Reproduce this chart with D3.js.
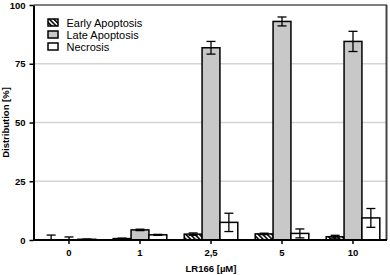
<!DOCTYPE html>
<html>
<head>
<meta charset="utf-8">
<script src="https://cdn.jsdelivr.net/npm/d3@7"></script>
<style>
  body { margin: 0; background: #fff; }
  text { font-family: "Liberation Sans", Arial, sans-serif; }
</style>
</head>
<body>
<div id="chart"></div>
<script>
// Datos
const categories = ['0', '1', '2,5', '5', '10'];
const seriesNames = ['Early Apoptosis', 'Late Apoptosis', 'Necrosis'];
const earlyValues = [0.1, 0.6, 2.5, 2.6, 1.4];
const earlyErrors = [2.0, 0.2, 0.5, 0.3, 0.6];
const lateValues = [0.1, 4.3, 81.8, 93.0, 84.5];
const lateErrors = [1.2, 0.3, 2.7, 1.9, 4.3];
const necrosisValues = [0.3, 2.2, 7.5, 2.8, 9.4];
const necrosisErrors = [0.1, 0.2, 3.9, 1.9, 4.0];
const yTicks = [0, 25, 50, 75, 100];

const width = 390, height = 275;
const mLeft = 33.5, mRight = 386, mTop = 5, mBottom = 240;

const svg = d3.select('#chart').append('svg')
  .attr('width', width).attr('height', height);

// Patrón rayado
const defs = svg.append('defs');
const pat = defs.append('pattern')
  .attr('id', 'hatch').attr('patternUnits', 'userSpaceOnUse')
  .attr('width', 3.2).attr('height', 4)
  .attr('patternTransform', 'rotate(-45)');
pat.append('rect').attr('width', 3.2).attr('height', 4).attr('fill', '#fff');
pat.append('rect').attr('width', 1.7).attr('height', 4).attr('fill', '#111');

const fills = { 'Early Apoptosis': 'url(#hatch)', 'Late Apoptosis': '#c8c8c8', 'Necrosis': '#fff' };

// Escalas
const x0 = d3.scaleBand().domain(categories).range([mLeft, mLeft + 71 * 5]).padding(0);
const x1 = d3.scaleBand().domain(seriesNames).range([-26.8, 26.8]).padding(0);
const y = d3.scaleLinear().domain([0, 100]).range([mBottom, mTop]);

// Rejilla
svg.append('g').selectAll('line').data(yTicks.filter(t => t > 0 && t < 100)).join('line')
  .attr('x1', mLeft).attr('x2', mRight)
  .attr('y1', d => y(d)).attr('y2', d => y(d))
  .attr('stroke', '#d4d4d4').attr('stroke-width', 1.5);

// Marco superior y derecho
svg.append('line').attr('x1', mLeft).attr('x2', mRight + 1).attr('y1', mTop).attr('y2', mTop)
  .attr('stroke', '#555').attr('stroke-width', 1.5);
svg.append('line').attr('x1', mRight + 0.5).attr('x2', mRight + 0.5).attr('y1', mTop).attr('y2', mBottom)
  .attr('stroke', '#444').attr('stroke-width', 2);

const series = [
  { name: 'Early Apoptosis', values: earlyValues, errors: earlyErrors },
  { name: 'Late Apoptosis', values: lateValues, errors: lateErrors },
  { name: 'Necrosis', values: necrosisValues, errors: necrosisErrors },
];

const rows = [];
series.forEach(s => categories.forEach((c, i) => rows.push({ s: s.name, c, v: s.values[i], e: s.errors[i] })));

const cx = d => x0(d.c) + x0.bandwidth() / 2 + x1(d.s);

// Barras
svg.append('g').selectAll('rect').data(rows).join('rect')
  .attr('x', d => cx(d))
  .attr('y', d => y(d.v))
  .attr('width', x1.bandwidth())
  .attr('height', d => y(0) - y(d.v))
  .attr('fill', d => fills[d.s])
  .attr('stroke', '#000').attr('stroke-width', 1.5);

// Barras de error
const eb = svg.append('g').attr('stroke', '#000').attr('stroke-width', 1.3);
rows.forEach(d => {
  const mx = cx(d) + x1.bandwidth() / 2;
  const hi = y(d.v + d.e), lo = y(Math.max(0, d.v - d.e));
  eb.append('line').attr('x1', mx).attr('x2', mx).attr('y1', hi).attr('y2', lo);
  eb.append('line').attr('x1', mx - 4.5).attr('x2', mx + 4.5).attr('y1', hi).attr('y2', hi);
  if (d.v - d.e > 0) {
    eb.append('line').attr('x1', mx - 4.5).attr('x2', mx + 4.5).attr('y1', lo).attr('y2', lo);
  }
});

// Ejes
const xAxis = svg.append('g').attr('transform', `translate(0,${mBottom})`)
  .call(d3.axisBottom(x0).tickSize(4).tickSizeOuter(0));
const yAxis = svg.append('g').attr('transform', `translate(${mLeft},0)`)
  .call(d3.axisLeft(y).tickValues(yTicks).tickSize(4).tickSizeOuter(0));
[xAxis, yAxis].forEach(a => {
  a.select('.domain').attr('stroke', '#000').attr('stroke-width', 2);
  a.selectAll('.tick line').attr('stroke', '#000').attr('stroke-width', 1.5);
  a.selectAll('.tick text').attr('fill', '#000')
    .style('font-size', '9.5px').style('font-weight', 'bold')
    .style('font-family', '"Liberation Sans", Arial, sans-serif');
});
xAxis.select('.domain').attr('d', `M${mLeft},0H${mRight + 1}`);
xAxis.selectAll('.tick text').attr('dy', '0.9em');
yAxis.selectAll('.tick text').attr('dx', '-0.1em');

// Títulos de ejes
svg.append('text')
  .attr('transform', `translate(9,${(mTop + mBottom) / 2}) rotate(-90)`)
  .attr('text-anchor', 'middle')
  .style('font-size', '9.5px').style('font-weight', 'bold')
  .text('Distribution [%]');
svg.append('text')
  .attr('x', x0('2,5') + x0.bandwidth() / 2).attr('y', 272)
  .attr('text-anchor', 'middle')
  .style('font-size', '9.5px').style('font-weight', 'bold')
  .text('LR166 [µM]');

// Leyenda
const legend = svg.append('g').attr('transform', 'translate(48,19)');
seriesNames.forEach((n, i) => {
  const g = legend.append('g').attr('transform', `translate(0,${i * 12})`);
  g.append('rect').attr('width', 10).attr('height', 7)
    .attr('fill', fills[n]).attr('stroke', '#000').attr('stroke-width', 1.5);
  g.append('text').attr('x', 18.5).attr('y', 7.5)
    .style('font-size', '11px').text(n);
});
</script>
</body>
</html>
